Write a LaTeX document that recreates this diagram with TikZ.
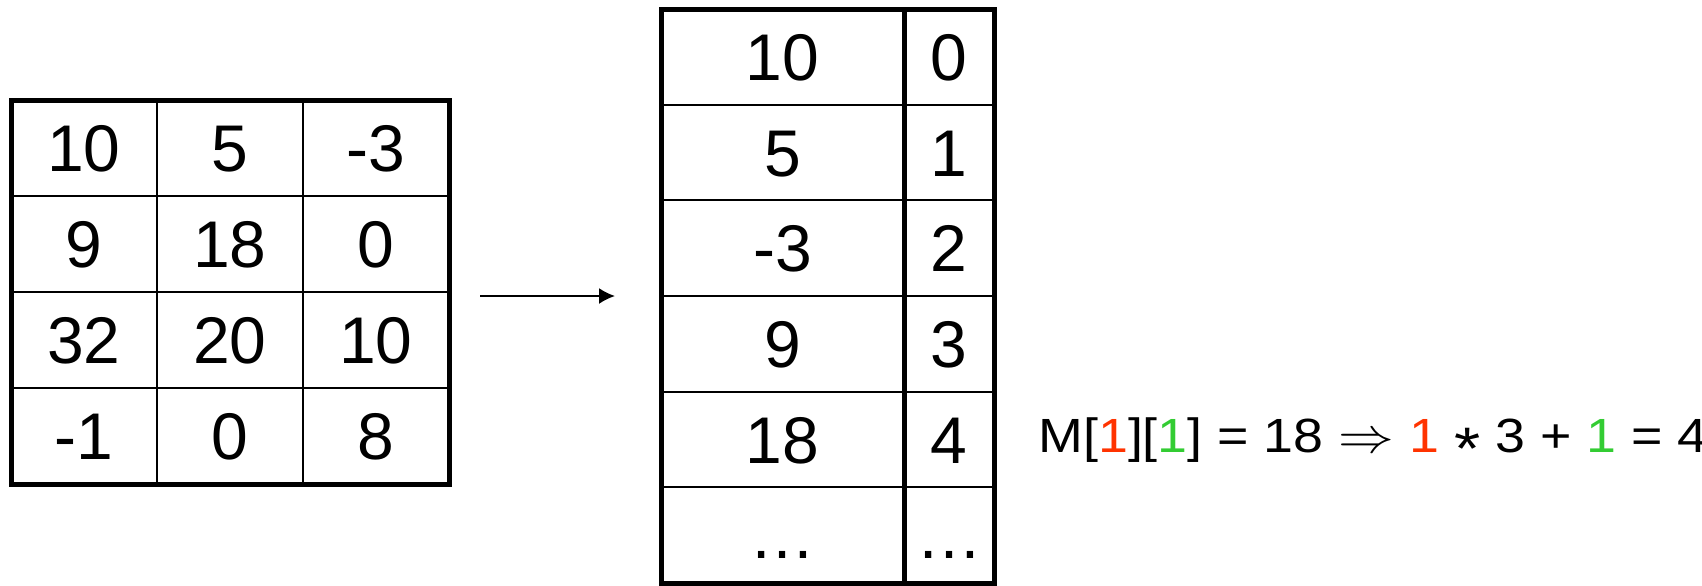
\documentclass[tikz,border=0pt]{standalone}
\usepackage{fontspec}
\setmainfont{Liberation Sans}
\usepackage{xcolor}
\usetikzlibrary{positioning, arrows.meta}
\definecolor{RowRed}{RGB}{255, 51, 0}
\definecolor{ColGreen}{RGB}{51, 204, 51}

\begin{document}
\begin{tikzpicture}[x = 0.5pt, y = -0.5pt,
    cell/.style = {draw, line width = 1pt, inner sep = 0pt, outer sep = 0pt,
        text height = 23.8pt, text depth = 0pt, font = \fontsize{33}{40}\selectfont},
    frame/.style = {draw, line width = 2.5pt, inner sep = 0pt, outer sep = 0pt}]
            \useasboundingbox (0, 0) rectangle (1702, 585);
            %二维数组
            \foreach \r/\a/\b/\c in {0/10/5/-3, 1/9/18/0, 2/32/20/10, 3/-1/0/8} {
                \node[cell, minimum width = 73pt, minimum height = 48pt] (m\r0) at (84, 148 + 96*\r) {\a};
                \node[cell, minimum width = 73pt, minimum height = 48pt] (m\r1) at (230, 148 + 96*\r) {\b};
                \node[cell, minimum width = 73pt, minimum height = 48pt] (m\r2) at (376, 148 + 96*\r) {\c};
            }
            \node[frame, minimum width = 219pt, minimum height = 192pt] (lt) at (230, 292) {};
            %一维存储
            \foreach \r/\v/\i in {0/10/0, 1/5/1, 2/-3/2, 3/9/3, 4/18/4, 5/…/…} {
                \node[cell, minimum width = 121.5pt, minimum height = 47.83pt] (v\r) at (782.5, 56.83 + 95.67*\r) {\v};
                \node[cell, minimum width = 45pt, minimum height = 47.83pt] (i\r) at (949, 56.83 + 95.67*\r) {\i};
            }
            \node[frame, minimum width = 166.5pt, minimum height = 287pt] (rt) at (827.5, 296) {};
            \draw[line width = 2.5pt] (i0.north west) -- (i5.south west);
            %箭头
            \draw[-{Latex[length = 8pt, width = 8pt]}, line width = 1pt, shorten <= 15.5pt, shorten >= 23pt] (lt.east |- rt.west) -- (rt.west);
            %下标换算
            \node[anchor = base west, inner sep = 0pt, font = \fontsize{24}{29}\selectfont] (idx) at (1038, 452)
                {\scalebox{1.12}[1]{M[\textcolor{RowRed}{1}][\textcolor{ColGreen}{1}] = 18 $\Rightarrow$ \textcolor{RowRed}{1} \raisebox{-8.5pt}{\scalebox{1.25}{*}} 3 + \textcolor{ColGreen}{1} = 4}};
        \end{tikzpicture}
\end{document}
